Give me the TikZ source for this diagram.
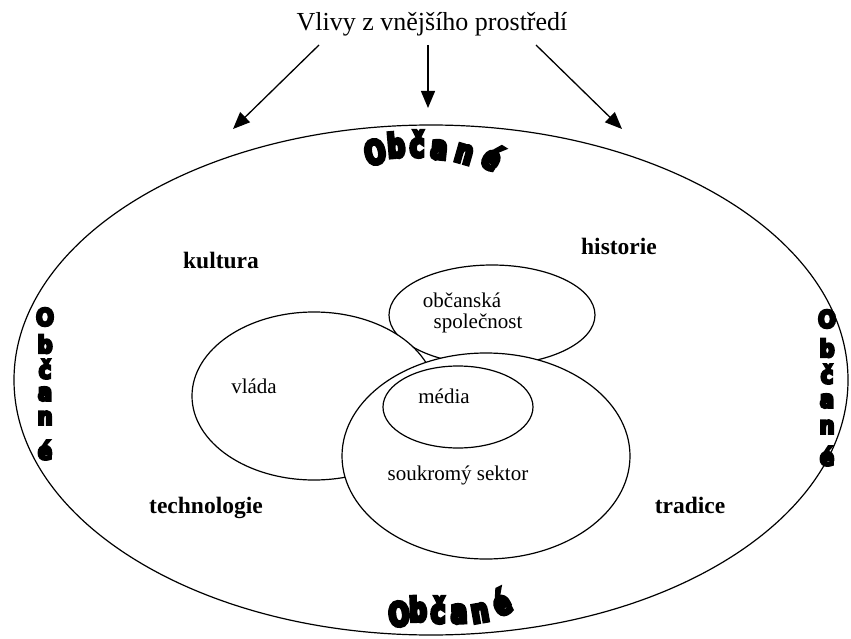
\documentclass[tikz,border=0pt]{standalone}
\usepackage{fontspec}
\setmainfont{Liberation Serif}
\newfontfamily\wordart[FakeStretch=0.74,FakeBold=10]{DejaVu Sans Bold}
\newfontfamily\wordside[FakeStretch=0.88,FakeBold=10]{DejaVu Sans Bold}
\usetikzlibrary{arrows.meta,shapes.geometric}

\begin{document}
\begin{tikzpicture}
  [x=1pt,y=-1pt,line width=1.2pt,
   every node/.style={inner sep=0pt,outer sep=0pt},
   blob/.style={ellipse,draw,fill=white},
   area/.style={font=\fontsize{23.5}{24}\selectfont\bfseries,anchor=base},
   inlabel/.style={font=\fontsize{21}{22}\selectfont,anchor=base},
   bigletter/.style={font=\fontsize{33}{33}\selectfont\wordart},
   sideletter/.style={font=\fontsize{24}{24}\selectfont\wordside},
   influence/.style={-{Triangle[length=17pt,width=14pt]},line width=1.3pt}]
  \useasboundingbox (0,0) rectangle (851,639);

  \node[anchor=base,font=\fontsize{26}{28}\selectfont] (vlivy) at (432,31) {Vlivy z vnějšího prostředí};
  \coordinate (s1) at (319,45);  \coordinate (t1) at (233,129);
  \coordinate (s2) at (428,45);  \coordinate (t2) at (428,108);
  \coordinate (s3) at (536,45);  \coordinate (t3) at (622,129);
  \foreach \from/\to in {s1/t1,s2/t2,s3/t3}
    \draw[influence] (\from) -- (\to);

  \node[ellipse,draw,minimum width=834pt,minimum height=510pt] (obcane) at (431,380) {};
  \node[blob,minimum width=206pt,minimum height=100pt] (spolecnost) at (492,315) {};
  \node[blob,minimum width=244pt,minimum height=168pt] (vlada) at (314,396) {};
  \node[blob,minimum width=288pt,minimum height=206pt] (sektor) at (486,456) {};
  \node[blob,minimum width=150pt,minimum height=82pt] (media) at (458,407) {};

  \node[area] (kultura) at (221,268) {kultura};
  \node[area] (historie) at (619,254) {historie};
  \node[area] (technologie) at (206,513) {technologie};
  \node[area] (tradice) at (690,513) {tradice};

  \node[inlabel] (l-obc) at (462,307) {občanská};
  \node[inlabel] (l-spol) at (478,328) {společnost};
  \node[inlabel] (l-vlada) at (254,393) {vláda};
  \node[inlabel] (l-media) at (444,403) {média};
  \node[inlabel] (l-sektor) at (458,480) {soukromý sektor};

  % Občané round the big ellipse
  \foreach \ch/\x/\y/\ang [count=\i] in {O/375/152/12,b/396/145/5,č/417/144/0,a/439/150/-6,n/464/154/-16,é/493/157/-32}
    \node[bigletter,rotate=\ang] (top\i) at (\x,\y) {\ch};
  \foreach \ch/\x/\y/\ang [count=\i] in {O/399/614/6,b/418/609/2,č/438/610/0,a/459/614/2,n/480/613/10,é/501/602/26}
    \node[bigletter,rotate=\ang] (bot\i) at (\x,\y) {\ch};
  \foreach \ch/\y [count=\i] in {O/317,b/344,č/369,a/394,n/418,é/450}
    \node[sideletter] (left\i) at (45,\y) {\ch};
  \foreach \ch/\y [count=\i] in {O/319,b/348,č/374,a/401,n/427,é/456}
    \node[sideletter] (right\i) at (827,\y) {\ch};

\end{tikzpicture}
\end{document}
